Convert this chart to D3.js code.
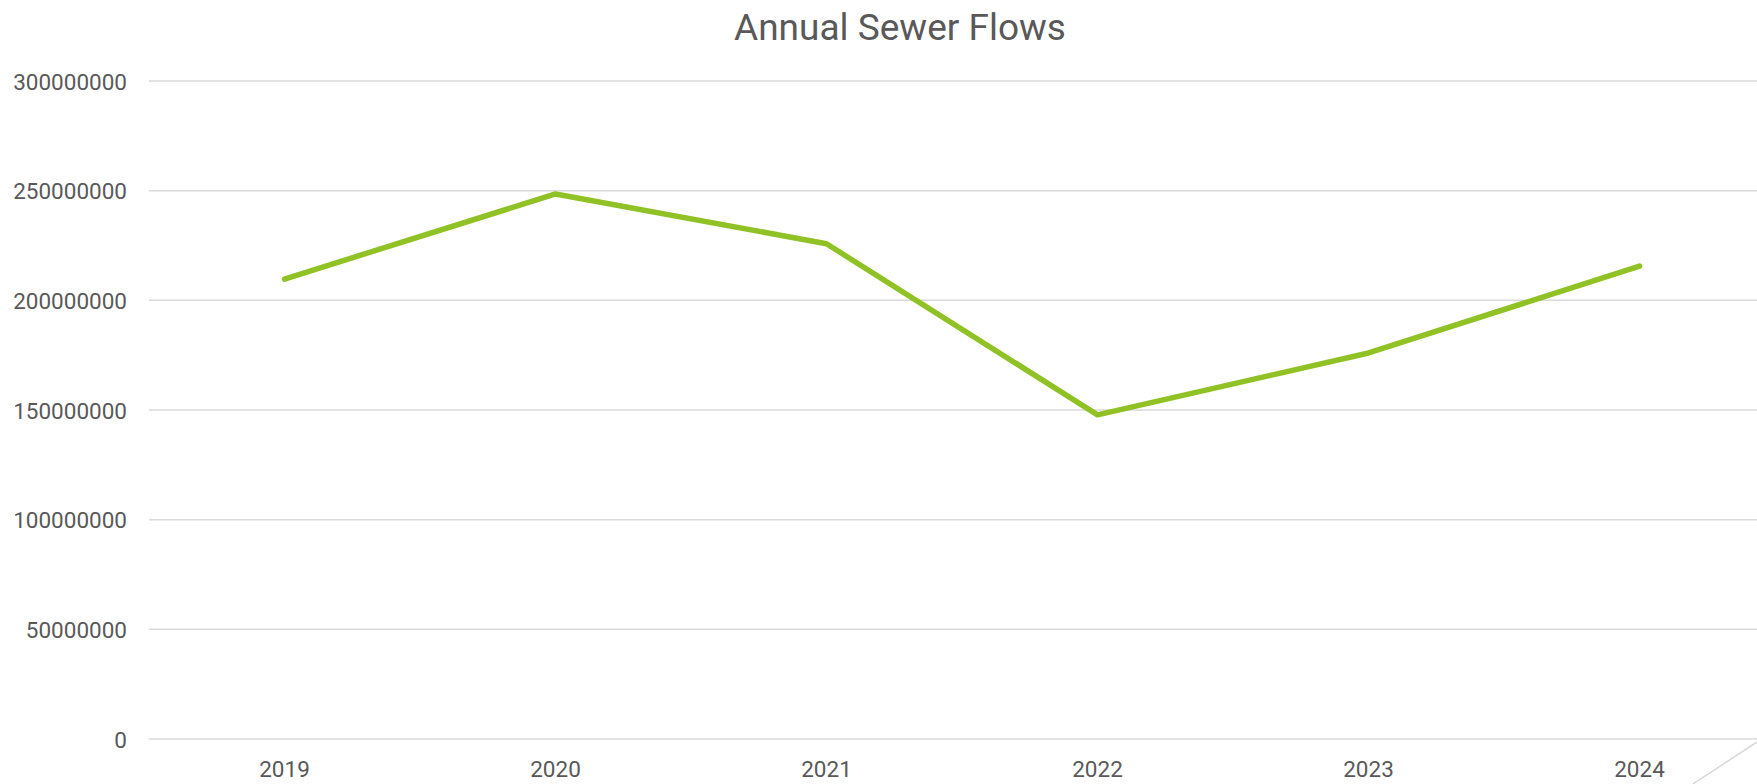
<!DOCTYPE html>
<html>
<head>
<meta charset="utf-8">
<script src="https://cdn.jsdelivr.net/npm/d3@7"></script>
<style>
  html, body { margin: 0; padding: 0; background: #ffffff; }
  svg { display: block; }
  text { font-family: Roboto, "Open Sans", sans-serif; fill: #595959; }
</style>
</head>
<body>
<svg id="chart" width="1757" height="784"></svg>
<script>
const title = "Annual Sewer Flows";
const categories = ["2019", "2020", "2021", "2022", "2023", "2024"];
const flows = [209700000, 248500000, 225800000, 147800000, 176000000, 215600000];
const yTicks = [0, 50000000, 100000000, 150000000, 200000000, 250000000, 300000000];

const W = 1757, H = 784;
const plot = { left: 149, right: 1775, top: 81, bottom: 739 };

const svg = d3.select("#chart");

const x = d3.scaleBand().domain(categories).range([plot.left, plot.right]).padding(0);
const y = d3.scaleLinear().domain([0, 300000000]).range([plot.bottom, plot.top]);

// gridlines
svg.append("g")
  .selectAll("line")
  .data(yTicks)
  .join("line")
  .attr("x1", plot.left)
  .attr("x2", W)
  .attr("y1", d => y(d))
  .attr("y2", d => y(d))
  .attr("stroke", "#d9d9d9")
  .attr("stroke-width", 1.5);

// y axis labels
const yAxis = d3.axisLeft(y).tickValues(yTicks).tickFormat(d => String(d)).tickSize(0).tickPadding(0);
const gy = svg.append("g").attr("transform", `translate(${plot.left - 22},0)`).call(yAxis);
gy.select(".domain").remove();
gy.selectAll("text")
  .style("font-size", "22.5px")
  .attr("fill", "#595959")
  .attr("dy", "0.36em");

// x axis labels
const xAxis = d3.axisBottom(x).tickSize(0).tickPadding(0);
const gx = svg.append("g").attr("transform", `translate(0,${plot.bottom})`).call(xAxis);
gx.select(".domain").remove();
gx.selectAll("text")
  .style("font-size", "22.5px")
  .attr("fill", "#595959")
  .attr("dy", null)
  .attr("y", 38);

// line
const line = d3.line()
  .x((d, i) => x(categories[i]) + x.bandwidth() / 2)
  .y(d => y(d));

svg.append("path")
  .datum(flows)
  .attr("d", line)
  .attr("fill", "none")
  .attr("stroke", "#90C226")
  .attr("stroke-width", 5.5)
  .attr("stroke-linejoin", "round")
  .attr("stroke-linecap", "round");

// title
svg.append("text")
  .attr("x", 900)
  .attr("y", 40)
  .attr("text-anchor", "middle")
  .style("font-size", "37px")
  .attr("fill", "#595959")
  .text(title);

// chart frame corner fragment (bottom right)
svg.append("line")
  .attr("x1", 1693).attr("y1", 784)
  .attr("x2", 1757).attr("y2", 742)
  .attr("stroke", "#d9d9d9")
  .attr("stroke-width", 1.5);
</script>
</body>
</html>
